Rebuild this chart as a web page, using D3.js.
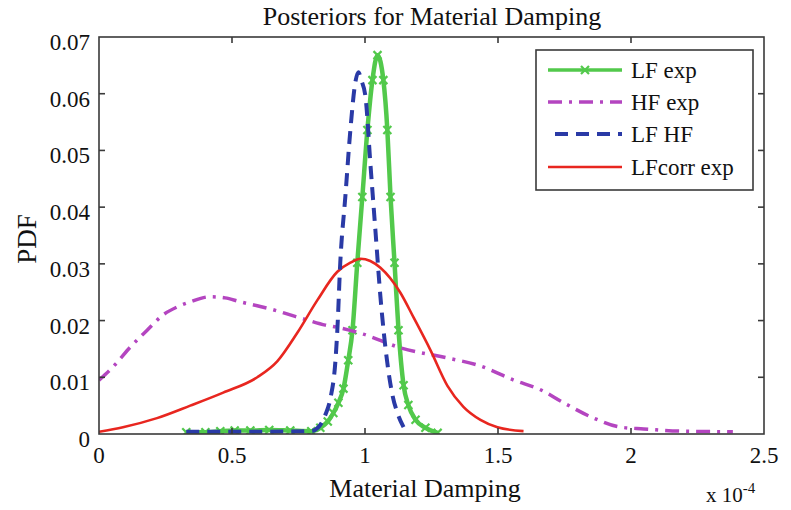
<!DOCTYPE html>
<html>
<head>
<meta charset="utf-8">
<script src="https://cdn.jsdelivr.net/npm/d3@7"></script>
<style>
  body { margin: 0; background: #fff; }
  svg { display: block; }
  text { font-family: "Liberation Serif", "Times New Roman", serif; fill: #111; }
</style>
</head>
<body>
<svg id="chart" width="791" height="510"></svg>
<script>
// ---- data (x in units of 1e-4) ----
const lfExpX = [0.328, 0.400, 0.456, 0.510, 0.569, 0.640, 0.719, 0.798, 0.832, 0.860, 0.881, 0.900, 0.919, 0.937, 0.953, 0.971, 0.990, 1.009, 1.028, 1.047, 1.069, 1.084, 1.096, 1.111, 1.126, 1.145, 1.163, 1.190, 1.227, 1.273];
const lfExpY = [0.0003, 0.0003, 0.0005, 0.0006, 0.0006, 0.0007, 0.0006, 0.0005, 0.0011, 0.0022, 0.0037, 0.0055, 0.0080, 0.0130, 0.0183, 0.0302, 0.0418, 0.0536, 0.0624, 0.0668, 0.0624, 0.0536, 0.0418, 0.0302, 0.0183, 0.0086, 0.0051, 0.0025, 0.0011, 0.0002];

const hfExpX = [0, 0.060, 0.117, 0.181, 0.241, 0.294, 0.343, 0.418, 0.474, 0.531, 0.595, 0.655, 0.719, 0.783, 0.851, 0.907, 0.994, 1.133, 1.310, 1.434, 1.559, 1.660, 1.747, 1.860, 1.962, 2.048, 2.187, 2.383];
const hfExpY = [0.0095, 0.0122, 0.0153, 0.0183, 0.0210, 0.0224, 0.0233, 0.0242, 0.0240, 0.0233, 0.0226, 0.0219, 0.0210, 0.0201, 0.0192, 0.0187, 0.0176, 0.0152, 0.0134, 0.0120, 0.0095, 0.0078, 0.0055, 0.0028, 0.0012, 0.0009, 0.0005, 0.0004];

const lfHfX = [0.328, 0.569, 0.798, 0.825, 0.851, 0.870, 0.889, 0.896, 0.907, 0.926, 0.945, 0.964, 0.975, 0.986, 1.002, 1.020, 1.039, 1.058, 1.084, 1.103, 1.122, 1.145];
const lfHfY = [0.0004, 0.0004, 0.0005, 0.0012, 0.0034, 0.0063, 0.0130, 0.0183, 0.0302, 0.0418, 0.0536, 0.0621, 0.0638, 0.0624, 0.0594, 0.0478, 0.0360, 0.0242, 0.0125, 0.0069, 0.0037, 0.0012];

const lfCorrX = [0, 0.090, 0.218, 0.343, 0.467, 0.595, 0.670, 0.745, 0.821, 0.896, 0.945, 0.983, 1.020, 1.058, 1.133, 1.182, 1.246, 1.310, 1.370, 1.434, 1.498, 1.596];
const lfCorrY = [0.0004, 0.0012, 0.0028, 0.0050, 0.0073, 0.0100, 0.0128, 0.0178, 0.0236, 0.0286, 0.0302, 0.0309, 0.0305, 0.0293, 0.0249, 0.0206, 0.0148, 0.0085, 0.0048, 0.0025, 0.0012, 0.0005];

const seriesNames = ["LF exp", "HF exp", "LF HF", "LFcorr exp"];
const xTicks = [0, 0.5, 1, 1.5, 2, 2.5];
const yTicks = [0, 0.01, 0.02, 0.03, 0.04, 0.05, 0.06, 0.07];

// ---- layout ----
const svg = d3.select("#chart");
const L = 99, R = 764, T = 37, B = 434;
const x = d3.scaleLinear().domain([0, 2.5]).range([L, R]);
const y = d3.scaleLinear().domain([0, 0.07]).range([B, T]);

const zip = (xs, ys) => xs.map((v, i) => [v, ys[i]]);
const styles = [
  { data: zip(lfExpX, lfExpY), color: "#52c94b", width: 4.5, dash: null, marker: true },
  { data: zip(hfExpX, hfExpY), color: "#b445c0", width: 3.5, dash: "14,7,3,7", marker: false },
  { data: zip(lfHfX, lfHfY), color: "#2a3aa6", width: 4, dash: "13,8", marker: false },
  { data: zip(lfCorrX, lfCorrY), color: "#e8261f", width: 2.6, dash: null, marker: false }
];

const line = d3.line().x(d => x(d[0])).y(d => y(d[1])).curve(d3.curveMonotoneX);
const xMark = (cx, cy, r) => `M${cx - r},${cy - r}L${cx + r},${cy + r}M${cx - r},${cy + r}L${cx + r},${cy - r}`;

const g = svg.append("g");
g.append("clipPath").attr("id", "clip").append("rect")
  .attr("x", L).attr("y", T).attr("width", R - L).attr("height", B - T);

const plot = g.append("g").attr("clip-path", "url(#clip)");
// draw order: LF exp first so LF HF dashes appear on top
const drawOrder = [0, 1, 3, 2];
drawOrder.forEach(i => {
  const s = styles[i];
  plot.append("path").datum(s.data)
    .attr("d", line)
    .attr("fill", "none")
    .attr("stroke", s.color)
    .attr("stroke-width", s.width)
    .attr("stroke-linejoin", "round")
    .attr("stroke-dasharray", s.dash);
  if (s.marker) {
    plot.selectAll(null).data(s.data).enter().append("path")
      .attr("d", d => xMark(x(d[0]), y(d[1]), 4))
      .attr("stroke", s.color).attr("stroke-width", 2.2).attr("fill", "none");
  }
});

// ---- axes box ----
const axisColor = "#3a3a3a";
g.append("rect").attr("x", L).attr("y", T).attr("width", R - L).attr("height", B - T)
  .attr("fill", "none").attr("stroke", axisColor).attr("stroke-width", 1.6);

const tl = 6;
xTicks.forEach(t => {
  const px = x(t);
  if (t > 0 && t < 2.5) {
    g.append("line").attr("x1", px).attr("x2", px).attr("y1", B).attr("y2", B - tl).attr("stroke", axisColor).attr("stroke-width", 1.6);
    g.append("line").attr("x1", px).attr("x2", px).attr("y1", T).attr("y2", T + tl).attr("stroke", axisColor).attr("stroke-width", 1.6);
  }
  g.append("text").attr("x", px).attr("y", 463).attr("text-anchor", "middle")
    .attr("font-size", 23).text(d3.format("")(t));
});
yTicks.forEach(t => {
  const py = y(t);
  if (t > 0 && t < 0.07) {
    g.append("line").attr("x1", L).attr("x2", L + tl).attr("y1", py).attr("y2", py).attr("stroke", axisColor).attr("stroke-width", 1.6);
    g.append("line").attr("x1", R).attr("x2", R - tl).attr("y1", py).attr("y2", py).attr("stroke", axisColor).attr("stroke-width", 1.6);
  }
  g.append("text").attr("x", 90).attr("y", py + 13).attr("text-anchor", "end")
    .attr("font-size", 23).text(t === 0 ? "0" : d3.format(".2f")(t));
});

// ---- titles ----
svg.append("text").attr("x", 432).attr("y", 25).attr("text-anchor", "middle")
  .attr("font-size", 26).text("Posteriors for Material Damping");
svg.append("text").attr("x", 425).attr("y", 497).attr("text-anchor", "middle")
  .attr("font-size", 26).text("Material Damping");
svg.append("text").attr("transform", "translate(36,239) rotate(-90)").attr("text-anchor", "middle")
  .attr("font-size", 27).text("PDF");
const mult = svg.append("text").attr("x", 706).attr("y", 502).attr("font-size", 21);
mult.append("tspan").text("x 10");
mult.append("tspan").attr("dy", -9).attr("font-size", 15).text("-4");

// ---- legend ----
const lg = svg.append("g");
lg.append("rect").attr("x", 536).attr("y", 50).attr("width", 217).attr("height", 140)
  .attr("fill", "#fff").attr("stroke", axisColor).attr("stroke-width", 1.6);
const rowY = [70, 102, 134, 167];
seriesNames.forEach((name, i) => {
  const s = styles[i];
  const yy = rowY[i];
  lg.append("line").attr("x1", i === 2 ? 555 : 548).attr("x2", 622).attr("y1", yy).attr("y2", yy)
    .attr("stroke", s.color).attr("stroke-width", i === 0 ? 3.5 : s.width).attr("stroke-dasharray", s.dash);
  if (s.marker) {
    lg.append("path").attr("d", xMark(585, yy, 4))
      .attr("stroke", s.color).attr("stroke-width", 2.2);
  }
  lg.append("text").attr("x", 631).attr("y", yy + 8).attr("font-size", 23).text(name);
});
</script>
</body>
</html>
